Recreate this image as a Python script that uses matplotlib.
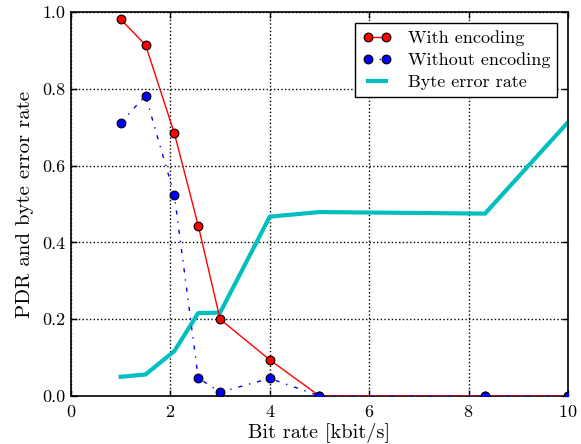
import matplotlib
matplotlib.use("Agg")
import matplotlib.pyplot as plt

bit_rate = [1.0, 1.5, 2.08, 2.56, 3.0, 4.0, 5.0, 8.33, 10.0]
with_encoding = [0.981, 0.914, 0.684, 0.444, 0.200, 0.094, 0.0, 0.0, 0.0]
without_encoding = [0.712, 0.782, 0.523, 0.047, 0.010, 0.046, 0.0, 0.0, 0.0]
byte_error_rate = [0.050, 0.056, 0.117, 0.216, 0.217, 0.467, 0.479, 0.475, 0.713]

plt.rcParams['font.family'] = ['cmr10', 'DejaVu Serif']
plt.rcParams['mathtext.fontset'] = 'cm'
plt.rcParams['axes.formatter.use_mathtext'] = True
plt.rcParams['xtick.direction'] = 'in'
plt.rcParams['ytick.direction'] = 'in'
plt.rcParams['xtick.top'] = True
plt.rcParams['ytick.right'] = True

fig = plt.figure(figsize=(5.81, 4.44), dpi=100)
ax = fig.add_axes([0.1222, 0.1081, 0.8554, 0.8649])

ax.plot(bit_rate, with_encoding, '-', color='red', lw=1, marker='o', ms=6.3,
        mfc='red', mec='black', mew=0.8, label='With encoding', zorder=3)
ax.plot(bit_rate, without_encoding, color='blue', lw=1, dashes=(3, 5, 1, 5),
        marker='o', ms=6.3, mfc='blue', mec='black', mew=0.8,
        label='Without encoding', zorder=4)
ax.plot(bit_rate, byte_error_rate, '-', color=(0.0, 0.75, 0.75), lw=3,
        label='Byte error rate', zorder=2)

ax.set_xlim(0, 10)
ax.set_ylim(0, 1.0)
ax.set_xticks([0, 2, 4, 6, 8, 10])
ax.set_yticks([0.0, 0.2, 0.4, 0.6, 0.8, 1.0])
ax.set_yticklabels(['0.0', '0.2', '0.4', '0.6', '0.8', '1.0'])
ax.grid(True, color='black', linestyle=':', linewidth=1)
ax.tick_params(axis='y', labelsize=13, length=4, width=1, pad=4)
ax.tick_params(axis='x', labelsize=13, length=4, width=1, pad=6)
for s in ax.spines.values():
    s.set_linewidth(1.2)

ax.set_xlabel('Bit rate [kbit/s]', fontsize=14.7, labelpad=2)
ax.set_ylabel('PDR and byte error rate', fontsize=15, labelpad=6)

leg = ax.legend(loc='upper right', fontsize=13, fancybox=False, framealpha=1,
                edgecolor='black', numpoints=2, handlelength=1.6,
                borderaxespad=0.6, borderpad=0.4, labelspacing=0.35,
                handletextpad=0.9)
leg.get_frame().set_linewidth(1.0)

fig.savefig('out.png', dpi=100, facecolor='white')
